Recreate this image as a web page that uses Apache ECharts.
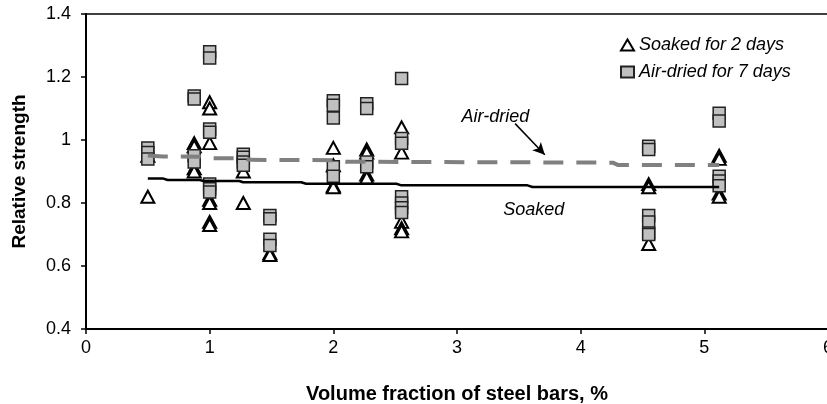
<!DOCTYPE html>
<html>
<head>
<meta charset="utf-8">
<script src="https://cdn.jsdelivr.net/npm/echarts@6/dist/echarts.min.js"></script>
<style>
html,body{margin:0;padding:0;background:#fff;}
#chart{width:827px;height:404px;}
</style>
</head>
<body>
<div id="chart"></div>
<script>
// ---- data ----
const xTicks = [0, 1, 2, 3, 4, 5, 6];
const yTicks = [0.4, 0.6, 0.8, 1.0, 1.2, 1.4];

const soakedPoints = [
  [0.5,0.95],[0.5,0.82],
  [0.875,0.99],[0.875,0.98],[0.875,0.91],[0.875,0.90],
  [1.0,1.12],[1.0,1.10],[1.0,0.99],[1.0,0.81],[1.0,0.80],[1.0,0.74],[1.0,0.73],
  [1.272,0.90],[1.272,0.80],
  [1.487,0.64],[1.487,0.635],
  [2.0,0.975],[2.0,0.92],[2.0,0.855],[2.0,0.85],
  [2.27,0.97],[2.27,0.96],[2.27,0.89],[2.27,0.88],
  [2.552,1.04],[2.552,0.96],[2.552,0.74],[2.552,0.72],[2.552,0.71],
  [4.55,0.86],[4.55,0.85],[4.55,0.67],
  [5.12,0.95],[5.12,0.94],[5.12,0.83],[5.12,0.82]
];

const airDriedPoints = [
  [0.5,0.975],[0.5,0.96],[0.5,0.94],
  [0.875,1.14],[0.875,1.13],[0.875,0.95],[0.875,0.93],
  [1.0,1.28],[1.0,1.26],[1.0,1.035],[1.0,1.025],[1.0,0.86],[1.0,0.845],[1.0,0.835],
  [1.272,0.955],[1.272,0.945],[1.272,0.93],[1.272,0.92],
  [1.487,0.76],[1.487,0.75],[1.487,0.685],[1.487,0.665],
  [2.0,1.125],[2.0,1.11],[2.0,1.07],[2.0,0.915],[2.0,0.885],
  [2.27,1.115],[2.27,1.10],[2.27,0.93],[2.27,0.915],
  [2.552,1.195],[2.552,1.005],[2.552,0.99],[2.552,0.82],[2.552,0.80],[2.552,0.785],[2.552,0.77],
  [4.55,0.98],[4.55,0.97],[4.55,0.76],[4.55,0.74],[4.55,0.705],[4.55,0.70],
  [5.12,1.085],[5.12,1.06],[5.12,0.885],[5.12,0.87],[5.12,0.855]
];

const soakedTrend = [
  [0.5,0.878],[0.62,0.878],[0.66,0.873],[0.92,0.873],[0.95,0.870],[1.24,0.870],
  [1.27,0.866],[1.74,0.866],[1.78,0.861],[2.51,0.861],[2.55,0.856],[3.57,0.856],
  [3.61,0.851],[5.12,0.851]
];

const airDriedTrend = [
  [0.5,0.951],[0.62,0.948],[0.92,0.947],[0.98,0.942],[1.27,0.942],[1.32,0.937],
  [2.0,0.936],[2.1,0.931],[3.59,0.929],[4.26,0.928],[4.3,0.921],[5.12,0.921]
];

const seriesNames = ['Soaked for 2 days', 'Air-dried for 7 days'];
const annotations = [
  {text: 'Air-dried', x: 3.31, y: 1.073},
  {text: 'Soaked', x: 3.62, y: 0.778}
];
const arrowLine = [[3.47, 1.052], [3.71, 0.953]];

// ---- chart ----
const chart = echarts.init(document.getElementById('chart'), null, {renderer: 'canvas'});
const FONT = 'Liberation Sans, Arial, sans-serif';

const option = {
  animation: false,
  backgroundColor: '#ffffff',
  grid: {left: 86, top: 14, right: -1, bottom: 75, show: true, containLabel: false,
         outerBoundsMode: 'none',
         borderColor: '#000', borderWidth: 1.5, backgroundColor: 'transparent'},
  legend: {
    orient: 'vertical', left: 615, top: 31, itemGap: 9,
    itemWidth: 13, itemHeight: 11,
    data: seriesNames,
    textStyle: {fontFamily: FONT, fontStyle: 'italic', fontSize: 18, color: '#000'}
  },
  xAxis: {
    type: 'value', min: xTicks[0], max: xTicks[xTicks.length-1], interval: 1,
    splitLine: {show: false},
    axisLine: {show: true, onZero: false, lineStyle: {color: '#000', width: 2}},
    axisTick: {show: true, length: 5, lineStyle: {color: '#000', width: 1.5}},
    axisLabel: {fontFamily: FONT, fontSize: 18, color: '#000', margin: 10},
    name: 'Volume fraction of steel bars, %', nameLocation: 'middle', nameGap: 55,
    nameTextStyle: {fontFamily: FONT, fontSize: 20, fontWeight: 'bold', color: '#000'}
  },
  yAxis: {
    type: 'value', min: yTicks[0], max: yTicks[yTicks.length-1], interval: 0.2,
    splitLine: {show: false},
    axisLine: {show: true, onZero: false, lineStyle: {color: '#000', width: 2}},
    axisTick: {show: true, length: 5, lineStyle: {color: '#000', width: 1.5}},
    axisLabel: {fontFamily: FONT, fontSize: 18, color: '#000', margin: 15},
    name: 'Relative strength', nameLocation: 'middle', nameGap: 57,
    nameTextStyle: {fontFamily: FONT, fontSize: 19, fontWeight: 'bold', color: '#000'}
  },
  series: [
    {
      name: seriesNames[0], type: 'scatter', data: soakedPoints, z: 2,
      symbol: 'triangle', symbolSize: [13, 12],
      itemStyle: {color: '#ffffff', borderColor: '#000', borderWidth: 2, opacity: 1}
    },
    {
      name: seriesNames[1], type: 'scatter', data: airDriedPoints, z: 3,
      symbol: 'rect', symbolSize: [12, 12],
      itemStyle: {color: '#c0c0c0', borderColor: '#222', borderWidth: 1.5, opacity: 1}
    },
    {
      name: 'soakedTrend', type: 'line', data: soakedTrend, z: 4,
      showSymbol: false, symbol: 'none', silent: true,
      lineStyle: {color: '#000', width: 2.5}
    },
    {
      name: 'airTrend', type: 'line', data: airDriedTrend, z: 4,
      showSymbol: false, symbol: 'none', silent: true,
      lineStyle: {color: '#808080', width: 4, type: [20, 13]},
      markLine: {
        silent: true, symbol: ['none', 'arrow'], symbolSize: [9, 12],
        label: {show: false},
        lineStyle: {color: '#000', width: 1.5, type: 'solid'},
        data: [[{coord: arrowLine[0]}, {coord: arrowLine[1]}]]
      }
    }
  ]
};
chart.setOption(option);

const graphics = annotations.map(a => {
  const p = chart.convertToPixel({gridIndex: 0}, [a.x, a.y]);
  return {
    type: 'text', x: p[0], y: p[1], z: 10,
    style: {text: a.text, fontFamily: FONT, fontStyle: 'italic', fontSize: 18,
            fill: '#000', textAlign: 'center', textVerticalAlign: 'middle'}
  };
});
chart.setOption({graphic: graphics});
</script>
</body>
</html>
